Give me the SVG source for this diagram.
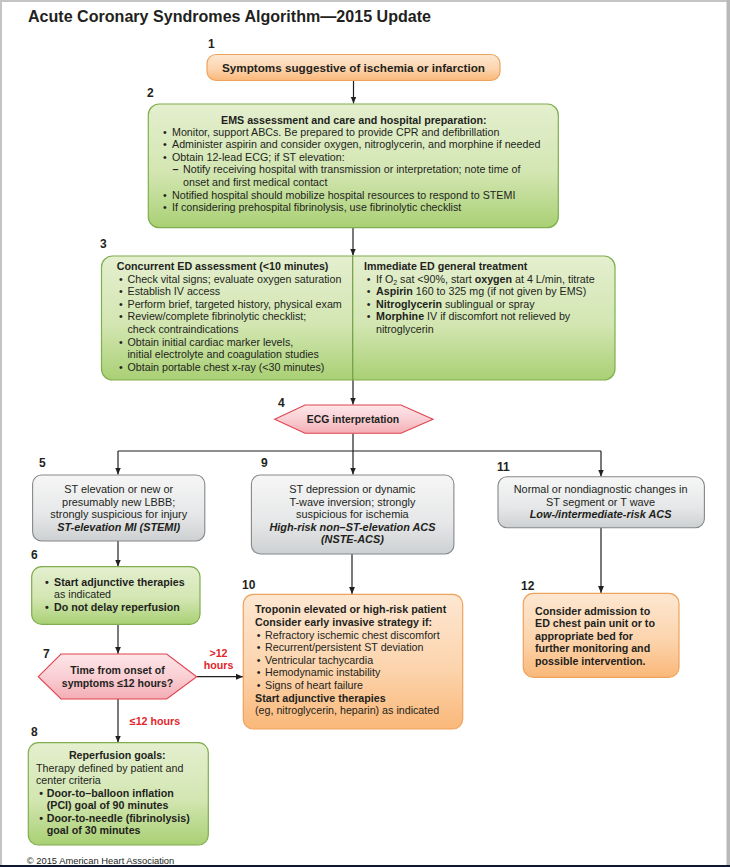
<svg xmlns="http://www.w3.org/2000/svg" width="730" height="867" viewBox="0 0 730 867">
<style>
.t{font-family:"Liberation Sans",Arial,sans-serif;font-size:10.7px;fill:#231f20}
.b{font-weight:bold}
.c{text-anchor:middle}
.bi{font-weight:bold;font-style:italic}
.num{font-family:"Liberation Sans",Arial,sans-serif;font-weight:bold;font-size:12px;fill:#231f20}
.red{fill:#e3262c;font-weight:bold}
.conn{stroke:#231f20;stroke-width:1.2;fill:none}
.green{fill:url(#gGreen);stroke:#7fae4e;stroke-width:1.2}
.orange{fill:url(#gOrange);stroke:#eea35c;stroke-width:1.2}
.gray{fill:url(#gGray);stroke:#858789;stroke-width:1.1}
.pink{fill:url(#gPink);stroke:#e0434f;stroke-width:1.1}
.gt{font-size:10.9px}
.title{font-size:17px}
.s1{font-size:11.7px}
.hx{font-size:10.4px}
.hx7{font-size:10.5px}
.sub{font-size:7px}
.copy{font-size:9.4px}
</style>
<defs>
<linearGradient id="gGreen" x1="0" y1="0" x2="0" y2="1">
<stop offset="0" stop-color="#e4efcf"/><stop offset="0.55" stop-color="#d3e6b2"/><stop offset="1" stop-color="#a9d074"/>
</linearGradient>
<linearGradient id="gOrange" x1="0" y1="0" x2="0" y2="1">
<stop offset="0" stop-color="#fde7d2"/><stop offset="0.55" stop-color="#fcd4ad"/><stop offset="1" stop-color="#fab879"/>
</linearGradient>
<linearGradient id="gGray" x1="0" y1="0" x2="0" y2="1">
<stop offset="0" stop-color="#f6f6f6"/><stop offset="0.6" stop-color="#e6e7e8"/><stop offset="1" stop-color="#cdd0d2"/>
</linearGradient>
<linearGradient id="gPink" x1="0" y1="0" x2="0" y2="1">
<stop offset="0" stop-color="#fde6e8"/><stop offset="0.5" stop-color="#f9cfd4"/><stop offset="1" stop-color="#f4adb5"/>
</linearGradient>
<marker id="ah" viewBox="0 0 10 10" refX="10" refY="5" markerWidth="7" markerHeight="7" markerUnits="userSpaceOnUse" orient="auto">
<path d="M0,0.8 L10,5 L0,9.2 z" fill="#231f20"/>
</marker>
</defs>

<rect x="0" y="0" width="730" height="867" fill="#ffffff"/>
<g id="frame">
<rect x="0" y="0" width="730" height="2" fill="#c4c4c4"/>
<rect x="0" y="0" width="2" height="867" fill="#c4c4c4"/>
<rect x="726.5" y="0" width="3.5" height="867" fill="#b9b9b9"/>
<rect x="0" y="865" width="730" height="2" fill="#0e1731"/>
</g>

<text class="t b title" x="28" y="21.5" textLength="403" lengthAdjust="spacingAndGlyphs">Acute Coronary Syndromes Algorithm—2015 Update</text>

<g id="connectors">
<line class="conn" x1="353.5" y1="80.7" x2="353.5" y2="103.5" marker-end="url(#ah)"/>
<line class="conn" x1="353" y1="228" x2="353" y2="255.5" marker-end="url(#ah)"/>
<line class="conn" x1="353" y1="380" x2="353" y2="404.5" marker-end="url(#ah)"/>
<polyline class="conn" points="353,433.5 353,451"/>
<line class="conn" x1="118" y1="451" x2="601" y2="451"/>
<line class="conn" x1="118" y1="451" x2="118" y2="474.5" marker-end="url(#ah)"/>
<line class="conn" x1="353" y1="451" x2="353" y2="474.5" marker-end="url(#ah)"/>
<line class="conn" x1="601" y1="451" x2="601" y2="476.5" marker-end="url(#ah)"/>
<line class="conn" x1="118" y1="541" x2="118" y2="566.5" marker-end="url(#ah)"/>
<line class="conn" x1="118" y1="624.3" x2="118" y2="653.8" marker-end="url(#ah)"/>
<line class="conn" x1="196.7" y1="676.7" x2="243" y2="676.7" marker-end="url(#ah)"/>
<line class="conn" x1="118" y1="699" x2="118" y2="742.5" marker-end="url(#ah)"/>
<line class="conn" x1="352" y1="554" x2="352" y2="594" marker-end="url(#ah)"/>
<line class="conn" x1="601" y1="527.7" x2="601" y2="593" marker-end="url(#ah)"/>
<text class="t red c" x="218.5" y="656.5">&gt;12</text>
<text class="t red c" x="218.5" y="669">hours</text>
<text class="t red c" x="155" y="724.5">≤12 hours</text>
</g>

<g id="node1">
<text class="num" x="208" y="47.5">1</text>
<rect class="orange" x="207" y="54.5" width="293" height="26" rx="9"/>
<text class="t b c s1" x="353.5" y="72">Symptoms suggestive of ischemia or infarction</text>
</g>

<g id="node2">
<text class="num" x="147" y="97">2</text>
<rect class="green" x="148.3" y="104" width="410" height="123.7" rx="11"/>
<text class="t b c" x="353.8" y="124.3">EMS assessment and care and hospital preparation:</text>
<text class="t" x="163" y="135.8">•</text><text class="t" x="172" y="135.8">Monitor, support ABCs. Be prepared to provide CPR and defibrillation</text>
<text class="t" x="163" y="148.3">•</text><text class="t" x="172" y="148.3">Administer aspirin and consider oxygen, nitroglycerin, and morphine if needed</text>
<text class="t" x="163" y="160.8">•</text><text class="t" x="172" y="160.8">Obtain 12-lead ECG; if ST elevation:</text>
<text class="t b" x="172.5" y="173.3">–</text><text class="t" x="183" y="173.3">Notify receiving hospital with transmission or interpretation; note time of</text>
<text class="t" x="183" y="185.8">onset and first medical contact</text>
<text class="t" x="163" y="198.6">•</text><text class="t" x="172" y="198.6">Notified hospital should mobilize hospital resources to respond to STEMI</text>
<text class="t" x="163" y="211.2">•</text><text class="t" x="172" y="211.2">If considering prehospital fibrinolysis, use fibrinolytic checklist</text>
</g>

<g id="node3">
<text class="num" x="100" y="248">3</text>
<rect class="green" x="101.5" y="256" width="513.5" height="124" rx="11"/>
<line x1="352.7" y1="256" x2="352.7" y2="380" stroke="#6f9d45" stroke-width="1.2"/>
<text class="t b" x="116.7" y="270">Concurrent ED assessment (&lt;10 minutes)</text>
<text class="t" x="119" y="282.5">•</text><text class="t" x="127.5" y="282.5">Check vital signs; evaluate oxygen saturation</text>
<text class="t" x="119" y="295.2">•</text><text class="t" x="127.5" y="295.2">Establish IV access</text>
<text class="t" x="119" y="307.8">•</text><text class="t" x="127.5" y="307.8">Perform brief, targeted history, physical exam</text>
<text class="t" x="119" y="320.4">•</text><text class="t" x="127.5" y="320.4">Review/complete fibrinolytic checklist;</text>
<text class="t" x="127.5" y="333">check contraindications</text>
<text class="t" x="119" y="345.6">•</text><text class="t" x="127.5" y="345.6">Obtain initial cardiac marker levels,</text>
<text class="t" x="127.5" y="358.2">initial electrolyte and coagulation studies</text>
<text class="t" x="119" y="370.8">•</text><text class="t" x="127.5" y="370.8">Obtain portable chest x-ray (&lt;30 minutes)</text>
<text class="t b" x="364" y="270">Immediate ED general treatment</text>
<text class="t" x="366.7" y="282.5">•</text><text class="t" x="376" y="282.5">If O<tspan class="sub" dy="2.5">2</tspan><tspan dy="-2.5"> sat &lt;90%, start </tspan><tspan class="b">oxygen</tspan> at 4 L/min, titrate</text>
<text class="t" x="366.7" y="295.2">•</text><text class="t" x="376" y="295.2"><tspan class="b">Aspirin</tspan> 160 to 325 mg (if not given by EMS)</text>
<text class="t" x="366.7" y="307.8">•</text><text class="t" x="376" y="307.8"><tspan class="b">Nitroglycerin</tspan> sublingual or spray</text>
<text class="t" x="366.7" y="320.4">•</text><text class="t" x="376" y="320.4"><tspan class="b">Morphine</tspan> IV if discomfort not relieved by</text>
<text class="t" x="376" y="333">nitroglycerin</text>
</g>

<g id="node4">
<text class="num" x="278" y="407">4</text>
<polygon class="pink" points="274.7,419.3 305,405 401,405 433,419.3 401,433.3 305,433.3"/>
<text class="t b c hx" x="353" y="423">ECG interpretation</text>
</g>

<g id="node5">
<text class="num" x="39" y="467">5</text>
<rect class="gray" x="32.6" y="475" width="172.2" height="66" rx="9"/>
<text class="t gt c" x="118.7" y="493">ST elevation or new or</text>
<text class="t gt c" x="118.7" y="505.6">presumably new LBBB;</text>
<text class="t gt c" x="118.7" y="518">strongly suspicious for injury</text>
<text class="t gt bi c" x="118.7" y="530.6">ST-elevation MI (STEMI)</text>
</g>

<g id="node6">
<text class="num" x="31" y="559">6</text>
<rect class="green" x="31.7" y="566.7" width="168.3" height="57.6" rx="10"/>
<text class="t b" x="45" y="585.5">•</text><text class="t b" x="54" y="585.5">Start adjunctive therapies</text>
<text class="t" x="54" y="598">as indicated</text>
<text class="t b" x="45" y="611">•</text><text class="t b" x="54" y="611">Do not delay reperfusion</text>
</g>

<g id="node7">
<text class="num" x="43" y="658">7</text>
<polygon class="pink" points="38.3,676.7 61,654 166.7,654 196.7,676.7 166.7,699 61,699"/>
<text class="t b c hx7" x="117.5" y="674">Time from onset of</text>
<text class="t b c hx7" x="117.5" y="687.3">symptoms ≤12 hours?</text>
</g>

<g id="node8">
<text class="num" x="31" y="736">8</text>
<rect class="green" x="28.3" y="742.7" width="180" height="102.3" rx="10"/>
<text class="t b c" x="117.3" y="759">Reperfusion goals:</text>
<text class="t" x="36" y="771.5">Therapy defined by patient and</text>
<text class="t" x="36" y="784">center criteria</text>
<text class="t b" x="39.3" y="796.5">•</text><text class="t b" x="46.7" y="796.5">Door-to–balloon inflation</text>
<text class="t b" x="46.7" y="809">(PCI) goal of 90 minutes</text>
<text class="t b" x="39.3" y="821.5">•</text><text class="t b" x="46.7" y="821.5">Door-to-needle (fibrinolysis)</text>
<text class="t b" x="46.7" y="834">goal of 30 minutes</text>
</g>

<g id="node9">
<text class="num" x="261" y="467">9</text>
<rect class="gray" x="251.4" y="475" width="202.5" height="79" rx="9"/>
<text class="t gt c" x="352.4" y="493">ST depression or dynamic</text>
<text class="t gt c" x="352.4" y="505.6">T-wave inversion; strongly</text>
<text class="t gt c" x="352.4" y="518">suspicious for ischemia</text>
<text class="t gt bi c" x="352.4" y="530.6">High-risk non–ST-elevation ACS</text>
<text class="t gt bi c" x="352.4" y="542.6">(NSTE-ACS)</text>
</g>

<g id="node10">
<text class="num" x="242" y="588.5">10</text>
<rect class="orange" x="243.3" y="594.3" width="219.4" height="134.7" rx="10"/>
<text class="t b" x="255" y="613.3">Troponin elevated or high-risk patient</text>
<text class="t b" x="255" y="625.9">Consider early invasive strategy if:</text>
<text class="t" x="256.7" y="638.5">•</text><text class="t" x="265" y="638.5">Refractory ischemic chest discomfort</text>
<text class="t" x="256.7" y="651.1">•</text><text class="t" x="265" y="651.1">Recurrent/persistent ST deviation</text>
<text class="t" x="256.7" y="663.7">•</text><text class="t" x="265" y="663.7">Ventricular tachycardia</text>
<text class="t" x="256.7" y="676.3">•</text><text class="t" x="265" y="676.3">Hemodynamic instability</text>
<text class="t" x="256.7" y="688.9">•</text><text class="t" x="265" y="688.9">Signs of heart failure</text>
<text class="t b" x="255" y="701.5">Start adjunctive therapies</text>
<text class="t" x="255" y="714.1">(eg, nitroglycerin, heparin) as indicated</text>
</g>

<g id="node11">
<text class="num" x="497" y="471">11</text>
<rect class="gray" x="498" y="476.7" width="206.4" height="51" rx="9"/>
<text class="t gt c" x="600.6" y="493.3">Normal or nondiagnostic changes in</text>
<text class="t gt c" x="600.6" y="505.8">ST segment or T wave</text>
<text class="t gt bi c" x="600.6" y="518.3">Low-/intermediate-risk ACS</text>
</g>

<g id="node12">
<text class="num" x="521" y="590">12</text>
<rect class="orange" x="523.3" y="593.3" width="155.7" height="84" rx="10"/>
<text class="t b" x="535" y="614.5">Consider admission to</text>
<text class="t b" x="535" y="627">ED chest pain unit or to</text>
<text class="t b" x="535" y="639.5">appropriate bed for</text>
<text class="t b" x="535" y="652">further monitoring and</text>
<text class="t b" x="535" y="664.5">possible intervention.</text>
</g>

<text class="t copy" x="26.7" y="863.5">© 2015 American Heart Association</text>
</svg>
